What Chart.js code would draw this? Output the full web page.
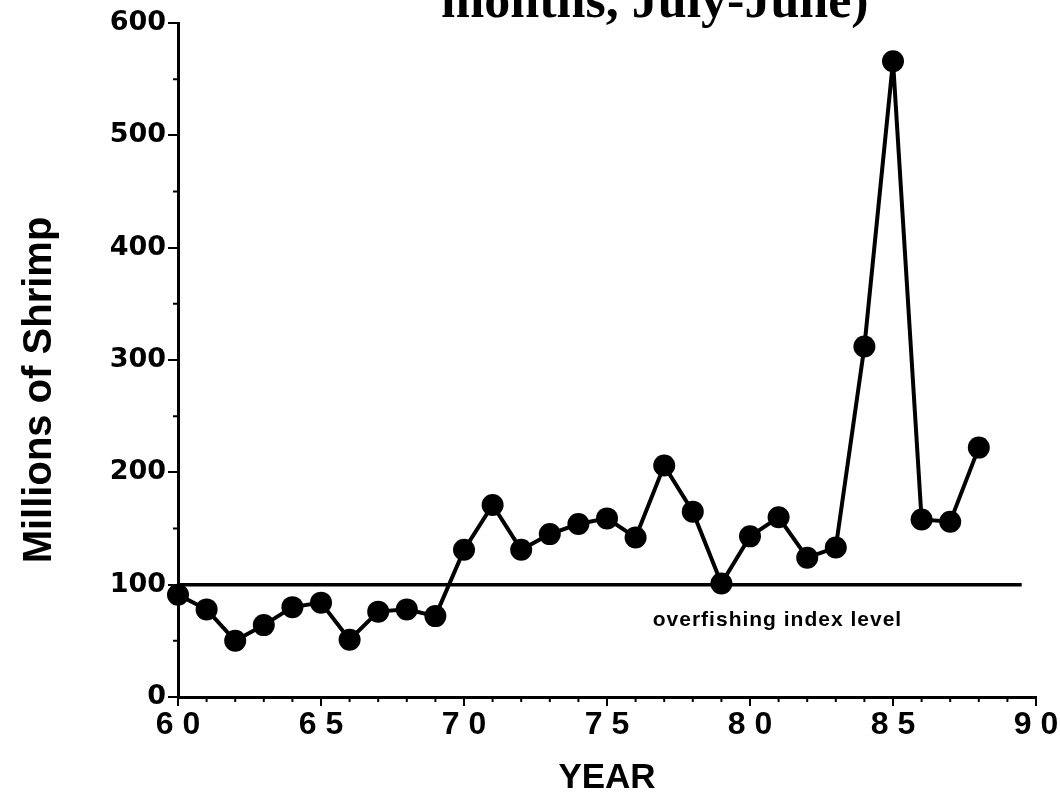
<!DOCTYPE html>
<html>
<head>
<meta charset="utf-8">
<script src="https://cdn.jsdelivr.net/npm/chart.js@4.4.1/dist/chart.umd.min.js"></script>
<style>
  html, body { margin: 0; padding: 0; background: #fff; }
  canvas { display: block; }
</style>
</head>
<body>
<canvas id="chart" width="1060" height="809"></canvas>
<script>
"use strict";

// Years (19xx) and millions of shrimp
const years = [60, 61, 62, 63, 64, 65, 66, 67, 68, 69, 70, 71, 72, 73, 74,
  75, 76, 77, 78, 79, 80, 81, 82, 83, 84, 85, 86, 87, 88];
const shrimp = [91, 78, 50, 64, 80, 84, 51, 76, 78, 72, 131, 171, 131, 145, 154,
  159, 142, 206, 165, 101, 143, 160, 124, 133, 312, 566, 158, 156, 222];

// overfishing index level (horizontal reference line)
const indexLevel = 100;
const indexYears = [60, 89.5];

// axis ticks
const yearTicks = [60, 65, 70, 75, 80, 85, 90];
const yearTickLabels = ["6 0", "6 5", "7 0", "7 5", "8 0", "8 5", "9 0"];
const shrimpTicks = [0, 100, 200, 300, 400, 500, 600];

const titleText = "months, July-June)";
const yTitleText = "Millions of Shrimp";
const indexLabelText = "overfishing index level";

Chart.defaults.color = "#000";

// minor ticks, rotated y title, cut-off heading and line label
const decorPlugin = {
  id: "decor",
  afterDraw(chart) {
    const ctx = chart.ctx;
    const x = chart.scales.x;
    const y = chart.scales.y;
    const area = chart.chartArea;

    ctx.save();
    ctx.strokeStyle = "#000";
    ctx.lineWidth = 2;
    ctx.beginPath();
    for (let v = x.min; v <= x.max; v++) {
      if (v % 5 === 0) continue;
      const px = x.getPixelForValue(v);
      ctx.moveTo(px, area.bottom);
      ctx.lineTo(px, area.bottom + 5);
    }
    for (let v = y.min + 50; v < y.max; v += 100) {
      const py = y.getPixelForValue(v);
      ctx.moveTo(area.left, py);
      ctx.lineTo(area.left - 5, py);
    }
    ctx.stroke();

    // y title
    ctx.save();
    ctx.translate(40, 390);
    ctx.rotate(-Math.PI / 2);
    ctx.font = "bold 40px 'Liberation Sans', Arial, sans-serif";
    ctx.textAlign = "center";
    ctx.textBaseline = "middle";
    ctx.fillStyle = "#000";
    ctx.fillText(yTitleText, 0, 0);
    ctx.restore();

    // heading, only its lower part is visible
    ctx.font = "bold 52px 'Liberation Serif', 'Times New Roman', serif";
    ctx.textAlign = "left";
    ctx.textBaseline = "alphabetic";
    ctx.fillStyle = "#000";
    ctx.fillText(titleText, 441, 17);

    // label under the index line
    ctx.font = "bold 21px 'Liberation Sans', Arial, sans-serif";
    ctx.letterSpacing = "1px";
    ctx.textAlign = "left";
    ctx.textBaseline = "middle";
    ctx.fillText(indexLabelText, x.getPixelForValue(76.6), y.getPixelForValue(68));
    ctx.restore();
  }
};

new Chart(document.getElementById("chart"), {
  type: "line",
  data: {
    datasets: [
      {
        label: "Shrimp",
        data: years.map((yr, i) => ({ x: yr, y: shrimp[i] })),
        borderColor: "#000",
        borderWidth: 4,
        pointRadius: 11,
        pointBackgroundColor: "#000",
        pointBorderWidth: 0,
        tension: 0,
        clip: false,
      },
      {
        label: "Index",
        data: indexYears.map((yr) => ({ x: yr, y: indexLevel })),
        borderColor: "#000",
        borderWidth: 3.5,
        pointRadius: 0,
        clip: false,
      },
    ],
  },
  options: {
    responsive: false,
    animation: false,
    layout: { padding: { top: 23, right: 24, bottom: 0, left: 0 } },
    plugins: {
      legend: { display: false },
      tooltip: { enabled: false },
    },
    scales: {
      x: {
        type: "linear",
        min: 60,
        max: 90,
        afterFit(scale) { scale.height = 112; },
        afterBuildTicks(scale) { scale.ticks = yearTicks.map((v) => ({ value: v })); },
        border: { display: true, color: "#000", width: 3 },
        grid: { drawOnChartArea: false, drawTicks: true, tickLength: 9, color: "#000", lineWidth: 2 },
        ticks: {
          padding: 0,
          maxRotation: 0,
          font: { family: "'Liberation Sans', Arial, sans-serif", size: 32, weight: "bold" },
          callback: (v) => yearTickLabels[yearTicks.indexOf(v)],
        },
        title: {
          display: true,
          text: "YEAR",
          font: { family: "'Liberation Sans', Arial, sans-serif", size: 35, weight: "bold" },
          padding: { top: 0, bottom: 10 },
        },
      },
      y: {
        min: 0,
        max: 600,
        afterFit(scale) { scale.width = 178; },
        afterBuildTicks(scale) { scale.ticks = shrimpTicks.map((v) => ({ value: v })); },
        border: { display: true, color: "#000", width: 3 },
        grid: { drawOnChartArea: false, drawTicks: true, tickLength: 10, color: "#000", lineWidth: 2 },
        ticks: {
          padding: 2,
          font: { family: "'DejaVu Sans', sans-serif", size: 27, weight: "bold" },
        },
      },
    },
  },
  plugins: [decorPlugin],
});
</script>
</body>
</html>
